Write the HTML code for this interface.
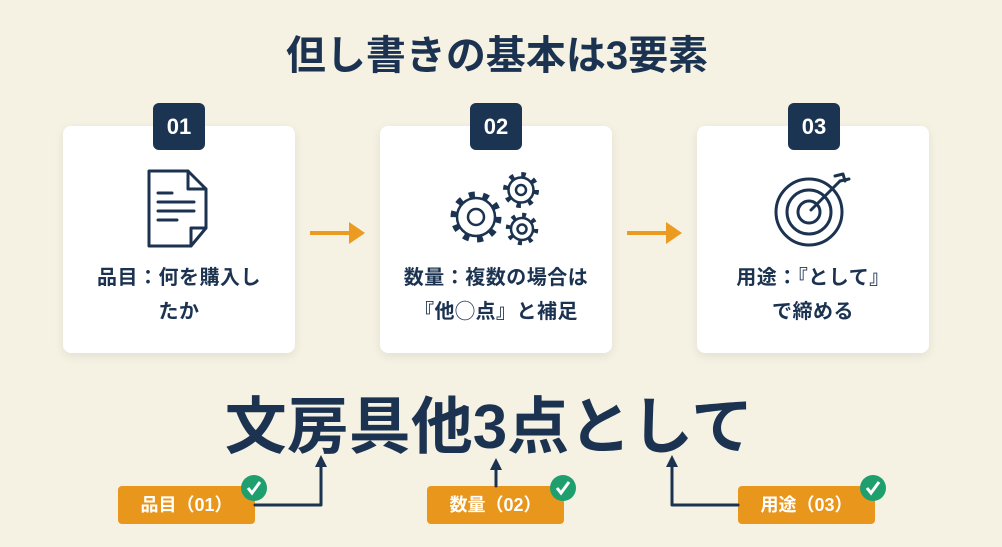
<!DOCTYPE html>
<html><head><meta charset="utf-8"><style>
*{margin:0;padding:0;box-sizing:border-box}
body{width:1002px;height:547px;background:#f5f1e3;position:relative;overflow:hidden;font-family:"Liberation Sans","Noto Sans CJK JP",sans-serif;color:#1b3350}
.abs{position:absolute}
.title{left:-4px;width:1002px;top:31px;text-align:center;font-size:40px;font-weight:bold;line-height:50px}
.card{background:#fff;border-radius:8px;width:232px;height:227px;top:126px;box-shadow:0 3px 10px rgba(0,0,0,0.08)}
.badge{background:#1b3452;color:#fff;border-radius:6px;width:52px;height:47px;top:103px;font-size:22px;font-weight:bold;text-align:center;line-height:47px}
.ct{width:232px;top:261px;text-align:center;font-size:20px;font-weight:bold;line-height:34px;letter-spacing:0.5px}
.big{left:-12px;width:1002px;top:392px;text-align:center;font-size:62px;font-weight:bold;line-height:72px;letter-spacing:0px}
.lab{background:#e8961c;color:#fff;border-radius:4px;height:38px;top:486px;width:137px;font-size:18px;font-weight:bold;text-align:center;line-height:38px}
</style></head><body>
<div class="abs title">但し書きの基本は3要素</div>

<div class="abs card" style="left:63px"></div>
<div class="abs card" style="left:380px"></div>
<div class="abs card" style="left:697px"></div>
<div class="abs badge" style="left:153px">01</div>
<div class="abs badge" style="left:470px">02</div>
<div class="abs badge" style="left:788px">03</div>
<div class="abs ct" style="left:63px">品目：何を購入し<br>たか</div>
<div class="abs ct" style="left:380px">数量：複数の場合は<br>『他◯点』と補足</div>
<div class="abs ct" style="left:697px">用途：『として』<br>で締める</div>
<div class="abs big">文房具他3点として</div>
<div class="abs lab" style="left:118px">品目（01）</div>
<div class="abs lab" style="left:427px">数量（02）</div>
<div class="abs lab" style="left:738px">用途（03）</div>

<svg class="abs" style="left:0;top:0" width="1002" height="547">
<g fill="none" stroke="#1b3350" stroke-width="3" stroke-linejoin="round" stroke-linecap="round">
 <!-- doc -->
 <path d="M149 171 H188 L206 189 V228 L191 246 H149 Z"/>
 <path d="M188 171 V189 H206"/>
 <path d="M206 228 H191 V246"/>
 <path d="M158 193 H172 M158 202 H194 M158 211 H194 M158 220 H177"/>
 <!-- target -->
 <circle cx="809" cy="212" r="33"/>
 <circle cx="809" cy="212" r="22"/>
 <circle cx="809" cy="212" r="11"/>
 <path d="M811 210 L840 181"/>
 <path d="M835 176 L843 174 L845 181 M840 181 L849 179"/>
 <!-- connectors -->
 <path d="M255 505 H321 V462"/>
 <path d="M496 486 V465"/>
 <path d="M738 505 H672 V462"/>
</g>
<g fill="none" stroke="#1b3350" stroke-width="2.5">
 <circle cx="476" cy="217" r="19"/>
 <circle cx="476" cy="217" r="8"/>
 <circle cx="476" cy="217" r="22.5" stroke-width="6" stroke-dasharray="6 8.1"/>
 <circle cx="521" cy="190" r="12.5"/>
 <circle cx="521" cy="190" r="5"/>
 <circle cx="521" cy="190" r="15.5" stroke-width="5" stroke-dasharray="4.5 7.7"/>
 <circle cx="522" cy="229" r="11"/>
 <circle cx="522" cy="229" r="4.5"/>
 <circle cx="522" cy="229" r="14" stroke-width="4.5" stroke-dasharray="4 7"/>
</g>
<g fill="#1b3350">
 <path d="M321 455 L315 467 H327 Z"/>
 <path d="M496 458 L490 470 H502 Z"/>
 <path d="M672 455 L666 467 H678 Z"/>
</g>
<g stroke="#eb9c20" stroke-width="4"><path d="M310 233 H350 M627 233 H667"/></g>
<g fill="#eb9c20"><path d="M349 222 L365 233 L349 244 Z"/><path d="M666 222 L682 233 L666 244 Z"/></g>
<g>
 <circle cx="254" cy="488" r="13" fill="#1f9e6e"/><path d="M248 488 L252 493 L260 482" stroke="#fff" stroke-width="3" fill="none"/>
 <circle cx="563" cy="488" r="13" fill="#1f9e6e"/><path d="M557 488 L561 493 L569 482" stroke="#fff" stroke-width="3" fill="none"/>
 <circle cx="873" cy="488" r="13" fill="#1f9e6e"/><path d="M867 488 L871 493 L879 482" stroke="#fff" stroke-width="3" fill="none"/>
</g>
</svg>
</body></html>
